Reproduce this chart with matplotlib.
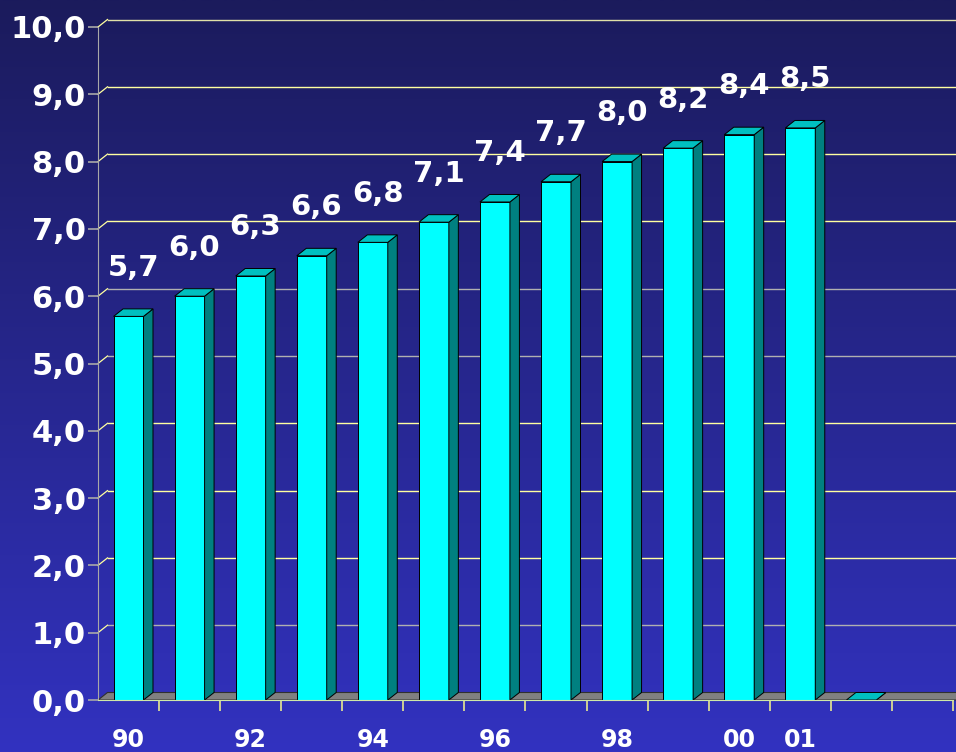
import numpy as np
import matplotlib
matplotlib.use("Agg")
import matplotlib.pyplot as plt
from matplotlib.patches import Polygon
from matplotlib.colors import LinearSegmentedColormap

# data
years = ['90', '91', '92', '93', '94', '95', '96', '97', '98', '99', '00', '01', '']
values = [5.7, 6.0, 6.3, 6.6, 6.8, 7.1, 7.4, 7.7, 8.0, 8.2, 8.4, 8.5, 0.0]
shown_labels = ['90', '', '92', '', '94', '', '96', '', '98', '', '00', '01', '', '']
grid_colors = ['#b0b0b0', '#b0b0b0', '#ffffa0', '#ffffa0', '#ffffa0', '#b0b0b0',
               '#b0b0b0', '#ffffa0', '#ffffa0', '#ffffa0', '#e0e0a8']

plt.rcParams['font.family'] = ['DejaVu Sans']
plt.rcParams['font.weight'] = 'bold'

fig = plt.figure(figsize=(9.56, 7.52), dpi=100)

# background gradient
bg = fig.add_axes([0, 0, 1, 1], zorder=-5)
cmap = LinearSegmentedColormap.from_list('bg', ['#1b1b5c', '#3232c0'])
bg.imshow(np.linspace(0, 1, 256).reshape(-1, 1), aspect='auto', cmap=cmap,
          extent=[0, 1, 0, 1])
bg.axis('off')

ax = fig.add_axes([98 / 956, 52 / 752, 858 / 956, 673 / 752])
ax.set_facecolor('none')
nslots = 14
xmax = 858 / 61.07
ax.set_xlim(0, xmax)
ax.set_ylim(0, 10)
dx = 9.5 / 61.07
dy = 7.5 / 67.3
bw = 0.49

# floor
floor = Polygon([(0, 0), (xmax + 1, 0), (xmax + 1 + dx, dy), (dx, dy)],
                closed=True, facecolor='#808080', edgecolor='#303030', lw=0.8,
                zorder=1, clip_on=False)
ax.add_patch(floor)

# back wall gridlines and stubs
for i, c in enumerate(grid_colors):
    if i == 0:
        continue
    ax.plot([dx, xmax + 1], [i + dy, i + dy], color=c, lw=1.0, zorder=0.5,
            clip_on=False)
    ax.plot([0, dx], [i, i + dy], color='#ffffa0', lw=0.9, zorder=0.5,
            clip_on=False)

# bars
x = np.arange(len(values)) + 0.5
ax.bar(x[:-1], values[:-1], width=bw, color='#00ffff', edgecolor='black',
       lw=0.7, zorder=3)
for xi, v in zip(x, values):
    l, r = xi - bw / 2, xi + bw / 2
    side = Polygon([(r, 0), (r + dx, dy), (r + dx, v + dy), (r, v)],
                   facecolor='#008080', edgecolor='black', lw=0.7, zorder=3)
    top = Polygon([(l, v), (r, v), (r + dx, v + dy), (l + dx, v + dy)],
                  facecolor='#00c0c0', edgecolor='black', lw=0.7, zorder=3)
    ax.add_patch(side)
    ax.add_patch(top)
    if v > 0:
        ax.annotate(f'{v:.1f}'.replace('.', ','), (xi + dx / 2, v),
                    xytext=(0, 35), textcoords='offset points', ha='center',
                    va='center', color='white', fontsize=21, fontweight='bold',
                    zorder=5)

# axes styling
for s in ['top', 'right']:
    ax.spines[s].set_visible(False)
ax.spines['left'].set_color('#a8a8a8')
ax.spines['bottom'].set_color('#d0e8a8')
ax.spines['bottom'].set_bounds(0, xmax - 0.05)
ax.spines['left'].set_zorder(4)
ax.spines['bottom'].set_zorder(4)

ax.set_yticks(range(11))
ax.set_yticklabels([f'{t:.1f}'.replace('.', ',') for t in range(11)])
ax.tick_params(axis='y', length=7, width=1.2, color='#a8a8a8', pad=2,
               labelcolor='white', labelsize=22)

ax.set_xticks(np.arange(nslots) + 0.5)
ax.set_xticklabels(shown_labels)
ax.set_xticks(np.arange(1, nslots + 1), minor=True)
ax.tick_params(axis='x', which='major', length=0, pad=20, labelcolor='white',
               labelsize=17)
ax.tick_params(axis='x', which='minor', length=8, width=1.2, color='#e8e890')

fig.savefig('out.png', dpi=100)
